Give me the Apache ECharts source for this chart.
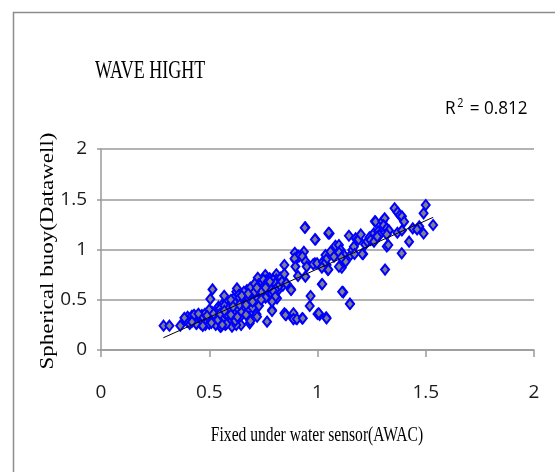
<!DOCTYPE html>
<html>
<head>
<meta charset="utf-8">
<script src="https://cdn.jsdelivr.net/npm/echarts@6/dist/echarts.min.js"></script>
<style>html,body{margin:0;padding:0;background:#fff}#c{width:555px;height:472px}</style>
</head>
<body>
<div id="c"></div>
<script>
// ---- data ----
var titleText = 'WAVE HIGHT';
var xAxisTitle = 'Fixed under water sensor(AWAC)';
var yAxisTitle = 'Spherical buoy(Datawell)';
var r2Value = '0.812';
var xTicks = [0, 0.5, 1, 1.5, 2];
var yTicks = [0, 0.5, 1, 1.5, 2];

var awac = [
0.289,0.316,0.366,0.400,0.400,0.420,0.424,0.443,0.443,0.466,0.474,0.482,0.489,0.505,0.512,0.520,0.532,0.543,0.548,0.551,
0.551,0.559,0.566,0.569,0.574,0.582,0.585,0.594,0.597,0.600,0.605,0.613,0.616,0.620,0.625,0.628,0.631,0.636,0.640,0.644,
0.647,0.656,0.659,0.667,0.674,0.677,0.682,0.687,0.690,0.693,0.698,0.705,0.708,0.713,0.718,0.721,0.724,0.728,0.733,0.736,
0.744,0.749,0.752,0.759,0.764,0.767,0.770,0.775,0.779,0.786,0.790,0.798,0.801,0.806,0.810,0.813,0.515,0.505,0.569,0.554,
0.625,0.690,0.41,0.43,0.45,0.46,0.47,0.48,0.49,0.50,0.50,0.52,0.53,0.53,0.54,0.55,0.56,0.57,0.58,0.58,
0.59,0.60,0.61,0.62,0.62,0.63,0.64,0.65,0.66,0.66,0.67,0.68,0.69,0.70,0.71,0.72,0.73,0.74,0.75,0.76,
0.77,0.78,0.79,0.80,0.81,0.82,0.83,0.84,0.847,0.847,0.878,0.847,0.855,0.887,0.900,0.929,0.944,0.898,0.895,0.910,
0.915,0.968,0.964,0.991,0.988,1.000,1.010,1.020,1.040,1.050,0.894,0.898,0.937,0.930,0.945,0.950,0.944,0.910,0.980,0.998,
0.790,1.025,1.037,1.042,1.048,1.060,1.076,1.083,1.099,1.107,1.112,1.119,1.099,1.153,1.161,1.176,1.187,1.168,1.253,1.273,
1.284,0.795,0.805,0.813,0.825,0.836,0.798,0.805,0.790,0.856,0.878,0.852,0.889,0.889,0.905,0.932,1.006,1.042,1.022,1.119,
1.150,1.211,1.145,0.988,0.941,1.056,1.265,1.500,1.490,1.534,1.490,1.356,1.370,1.380,1.390,1.400,1.268,1.300,1.310,1.305,
1.320,1.330,1.320,1.369,1.390,1.440,1.470,1.460,1.423,1.389,1.320,1.327,1.312,1.250,1.260,1.280,1.270,1.171,1.207,1.114,
1.150,1.122,1.130,1.120,1.100,1.110,1.052,1.040,1.050,1.030,1.020,1.190,1.200,1.220,1.230,1.240,1.245,1.261,1.284,1.276,
0.44,0.45,0.47,0.49,0.51,0.52,0.54,0.55,0.56,0.57,0.60,0.61,0.63,0.64,0.65,0.67,0.68,0.70,0.71,0.72,
0.74,0.76,0.78,0.42,0.39,0.385
];
var datawell = [
0.242,0.242,0.242,0.331,0.282,0.341,0.298,0.331,0.265,0.348,0.305,0.249,0.365,0.315,0.381,0.348,0.398,0.431,0.355,0.298,
0.232,0.448,0.414,0.348,0.249,0.481,0.398,0.448,0.348,0.282,0.232,0.514,0.431,0.365,0.580,0.613,0.481,0.547,0.414,0.331,
0.249,0.497,0.448,0.530,0.597,0.398,0.331,0.265,0.547,0.481,0.613,0.630,0.448,0.554,0.355,0.331,0.719,0.653,0.597,0.514,
0.673,0.564,0.630,0.746,0.696,0.282,0.607,0.653,0.713,0.547,0.398,0.696,0.630,0.580,0.753,0.514,0.603,0.507,0.540,0.232,
0.249,0.288,0.26,0.35,0.29,0.26,0.33,0.36,0.28,0.40,0.26,0.29,0.35,0.25,0.38,0.41,0.30,0.44,0.36,0.26,
0.41,0.50,0.38,0.46,0.29,0.42,0.52,0.38,0.58,0.44,0.35,0.50,0.62,0.42,0.66,0.50,0.44,0.58,0.70,0.52,
0.68,0.62,0.56,0.66,0.70,0.60,0.72,0.64,0.846,0.756,0.604,0.365,0.350,0.315,0.315,0.315,1.220,0.895,0.968,0.940,
0.930,0.537,0.438,1.100,0.863,0.358,0.350,0.654,0.325,1.160,0.910,0.830,0.978,0.930,0.880,0.830,0.730,0.736,0.853,0.863,
0.388,0.879,0.945,0.846,0.796,0.978,0.928,1.037,1.044,0.995,0.819,0.872,0.829,0.945,0.995,1.111,1.101,1.028,1.111,1.127,
1.137,0.697,0.663,0.620,0.647,0.680,0.580,0.530,0.481,0.663,0.597,0.348,0.365,0.308,0.308,0.315,0.365,0.315,0.657,0.574,
0.461,0.955,1.137,1.100,1.217,1.160,1.280,1.443,1.360,1.244,1.160,1.410,1.370,1.340,1.330,1.277,1.277,1.280,1.310,1.240,
1.210,1.190,1.150,1.167,1.190,1.210,1.230,1.200,1.078,0.962,1.030,1.045,0.800,1.130,1.160,1.180,1.120,0.955,0.955,0.580,
0.458,0.896,0.880,0.950,0.970,0.920,1.167,0.900,0.800,0.850,0.820,1.100,1.150,1.050,1.080,1.120,1.095,1.078,1.144,1.128,
0.26,0.36,0.24,0.34,0.27,0.36,0.30,0.36,0.25,0.39,0.35,0.43,0.33,0.45,0.54,0.45,0.56,0.48,0.58,0.62,
0.50,0.62,0.68,0.28,0.30,0.32
];
var trendX = [0.288, 1.534];
var trendY = [0.122, 1.320];

// ---- build ----
var points = awac.map(function (x, i) { return [x, datawell[i]]; });
var trend = trendX.map(function (x, i) { return [x, trendY[i]]; });

var chart = echarts.init(document.getElementById('c'), null, {renderer: 'canvas'});
var gray = '#9a9a9a';
var tickFont = {fontFamily: 'Open Sans', fontSize: 19, color: '#1a1a1a'};

chart.setOption({
  animation: false,
  backgroundColor: '#ffffff',
  grid: {left: 101, right: 21, top: 149, bottom: 122, containLabel: false},
  xAxis: {
    type: 'value', min: xTicks[0], max: xTicks[xTicks.length - 1], interval: 0.5,
    axisLine: {show: true, lineStyle: {color: gray, width: 1.5}},
    axisTick: {show: true, length: 7, lineStyle: {color: gray, width: 1.5}},
    splitLine: {show: false},
    axisLabel: Object.assign({margin: 33, formatter: function (v) { return String(v); }}, tickFont)
  },
  yAxis: {
    type: 'value', min: yTicks[0], max: yTicks[yTicks.length - 1], interval: 0.5,
    axisLine: {show: true, lineStyle: {color: gray, width: 1.5}},
    axisTick: {show: true, length: 4, lineStyle: {color: gray, width: 1.5}},
    splitLine: {show: true, lineStyle: {color: gray, width: 1.5}},
    axisLabel: Object.assign({margin: 14, formatter: function (v) { return String(v); }}, tickFont)
  },
  series: [
    {
      type: 'scatter', data: points, symbol: 'diamond', symbolSize: [8, 10], z: 3,
      itemStyle: {color: '#7f7f8f', borderColor: '#0000ff', borderWidth: 2, opacity: 1}
    },
    {
      type: 'line', data: trend, symbol: 'none', z: 4,
      lineStyle: {color: '#000000', width: 1}
    }
  ],
  graphic: [
    {type: 'rect', z: 1, silent: true, shape: {x: 13.5, y: 12.5, width: 600, height: 500},
     style: {fill: 'none', stroke: '#8c8c8c', lineWidth: 1.5}},
    {type: 'text', z: 5, x: 95, y: 71, scaleX: 0.72, silent: true,
     style: {text: titleText, font: '25px "Liberation Serif"', fill: '#000', align: 'left', verticalAlign: 'middle'}},
    {type: 'text', z: 5, x: 445, y: 109, scaleX: 0.9, silent: true,
     style: {text: 'R{sup|2} = ' + r2Value, font: '19px "Open Sans"', fill: '#000', align: 'left', verticalAlign: 'middle',
       rich: {sup: {fontSize: 12, fontFamily: 'Open Sans', verticalAlign: 'top', padding: [0, 2, 10, 2]}}}},
    {type: 'text', z: 5, x: 317, y: 436, scaleX: 0.78, silent: true,
     style: {text: xAxisTitle, font: '20px "Liberation Serif"', fill: '#000', align: 'center', verticalAlign: 'middle'}},
    {type: 'text', z: 5, x: 48, y: 251, rotation: Math.PI / 2, scaleY: 0.8, silent: true,
     style: {text: yAxisTitle, font: '23px "Liberation Serif"', fill: '#000', align: 'center', verticalAlign: 'middle'}}
  ]
});
</script>
</body>
</html>
